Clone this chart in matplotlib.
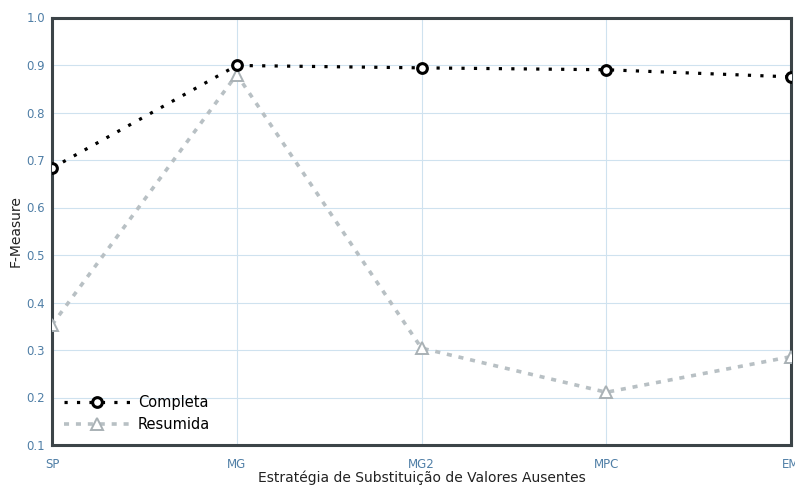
import numpy as np
from matplotlib import pyplot as plt

strategies = ['SP', 'MG', 'MG2', 'MPC', 'EM']
completa = [0.683, 0.899, 0.894, 0.890, 0.875]
resumida = [0.353, 0.880, 0.304, 0.211, 0.286]
yticks = [0.1, 0.2, 0.3, 0.4, 0.5, 0.6, 0.7, 0.8, 0.9, 1.0]

tick_color = '#4f7ea6'
grid_color = '#cfe2ef'
frame_color = '#3c4448'

fig = plt.figure(figsize=(7.95, 4.88), dpi=100)
ax = fig.add_axes([52 / 795, 43 / 488, 739 / 795, 427.5 / 488])

x = np.arange(len(strategies))
ax.plot(x, resumida, color='#b8c0c4', lw=2.6, linestyle=(0, (1.4, 1.9)),
        marker='^', markersize=8, markerfacecolor='white',
        markeredgecolor='#a9b1b5', markeredgewidth=1.4, label='Resumida',
        zorder=3)
ax.plot(x, completa, color='black', lw=2.3, linestyle=(0, (1.0, 2.9)),
        dash_capstyle='butt', marker='o', markersize=7,
        markerfacecolor='white', markeredgecolor='black',
        markeredgewidth=2.2, label='Completa', zorder=4)

ax.set_xlim(0, len(strategies) - 1)
ax.set_ylim(0.1, 1.0)
ax.set_xticks(x)
ax.set_xticklabels(strategies)
ax.set_yticks(yticks)
ax.set_yticklabels([f'{v:.1f}' for v in yticks])
ax.tick_params(colors=tick_color, labelsize=8.5, length=0, pad=5)
ax.tick_params(axis='x', pad=9)
ax.grid(True, color=grid_color, lw=0.8)
ax.set_axisbelow(True)
for s in ax.spines.values():
    s.set_color(frame_color)
    s.set_linewidth(2.2)

ax.set_ylabel('F-Measure', fontsize=10, color='#222222', labelpad=3)
ax.set_xlabel('Estratégia de Substituição de Valores Ausentes', fontsize=10,
              color='#222222', labelpad=0)

handles, labels = ax.get_legend_handles_labels()
ax.legend(handles[::-1], labels[::-1], loc='lower left', frameon=False,
          fontsize=10.5, handlelength=4.6, handletextpad=0.5,
          labelspacing=0.45, borderaxespad=0.4, bbox_to_anchor=(0.0, 0.004))

fig.savefig('out.png', dpi=100)
